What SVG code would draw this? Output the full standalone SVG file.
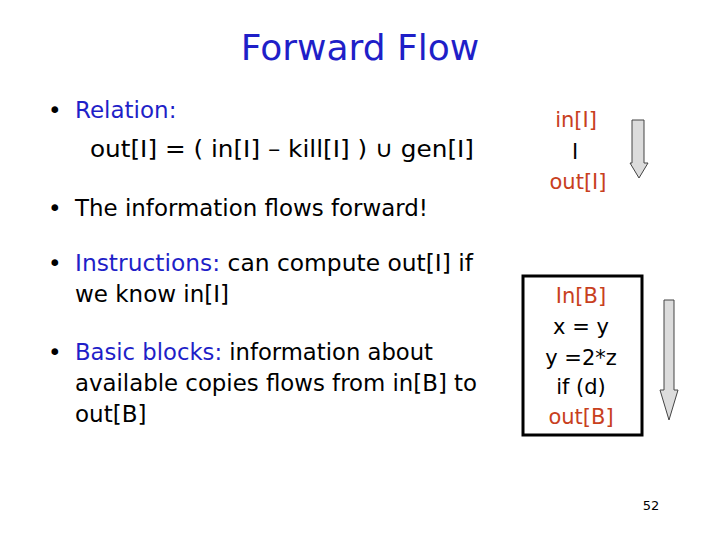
<svg xmlns="http://www.w3.org/2000/svg" width="720" height="540" viewBox="0 0 720 540">
<style>
text{font-family:"DejaVu Sans","Liberation Sans",sans-serif;font-size:23px;fill:#000}
.b{fill:#1f1fc8}.r{fill:#c8401e}.c{text-anchor:middle}
.ar{fill:#dcdcdc;stroke:#444;stroke-width:1}
</style>
<rect width="720" height="540" fill="#fff"/>
<g id="title"><text x="360" y="60" class="c b" style="font-size:36px">Forward Flow</text></g>
<g id="bullets">
<text x="48" y="118">•</text><text x="75" y="118" class="b">Relation:</text>
<text x="90" y="157" textLength="384" lengthAdjust="spacingAndGlyphs">out[I] = ( in[I] – kill[I] ) ∪ gen[I]</text>
<text x="48" y="216">•</text><text x="75" y="216" textLength="353" lengthAdjust="spacingAndGlyphs">The information flows forward!</text>
<text x="48" y="271">•</text><text x="75" y="271" textLength="398" lengthAdjust="spacingAndGlyphs"><tspan class="b">Instructions:</tspan> can compute out[I] if</text>
<text x="75" y="302">we know in[I]</text>
<text x="48" y="360">•</text><text x="75" y="360" textLength="358" lengthAdjust="spacingAndGlyphs"><tspan class="b">Basic blocks:</tspan> information about</text>
<text x="75" y="391" textLength="402" lengthAdjust="spacingAndGlyphs">available copies flows from in[B] to</text>
<text x="75" y="422">out[B]</text>
</g>
<g id="instr">
<text x="576" y="127" class="c r" style="font-size:21px">in[I]</text>
<text x="575" y="159" class="c" style="font-size:21px">I</text>
<text x="578" y="189" class="c r" style="font-size:21px">out[I]</text>
</g>
<g id="block">
<rect x="523" y="276" width="119" height="159" fill="#fff" stroke="#000" stroke-width="3"/>
<text x="581" y="303" class="c r" style="font-size:21px">In[B]</text>
<text x="581" y="334" class="c" style="font-size:21px">x = y</text>
<text x="581" y="365" class="c" style="font-size:21px">y =2*z</text>
<text x="581" y="394" class="c" style="font-size:21px">if (d)</text>
<text x="581" y="424" class="c r" style="font-size:21px">out[B]</text>
</g>
<g id="connectors">
<path class="ar" d="M632,120H644V163H648L639,178L630,163H632Z"/>
<path class="ar" d="M664,300H674V390H678L669,420L660,390H664Z"/>
</g>
<g id="page"><text x="651" y="510" class="c" style="font-size:13px">52</text></g>
</svg>
